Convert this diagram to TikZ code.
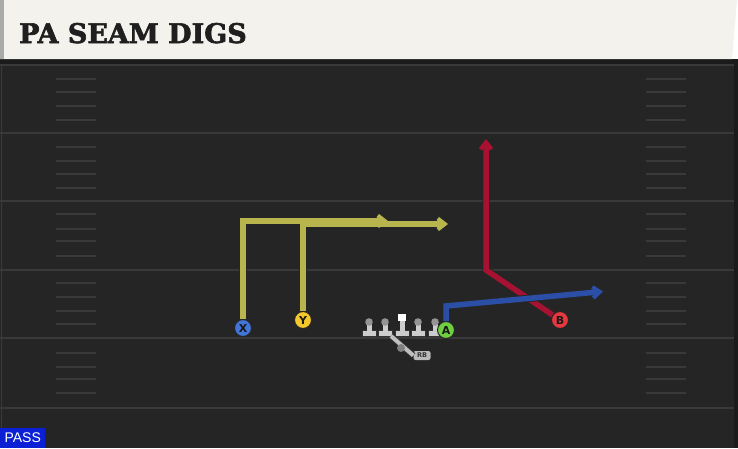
\documentclass[tikz,border=0pt]{standalone}
\usepackage{fontspec}
\setmainfont{DejaVu Serif}
\setsansfont{DejaVu Sans}
\newfontfamily\passfont{Liberation Sans}
\newfontfamily\titlefont[FakeBold=2.2]{DejaVu Serif Bold}
\usetikzlibrary{arrows.meta}
\usetikzlibrary{positioning}

\definecolor{turf}{HTML}{252525}
\definecolor{turfedge}{HTML}{1B1B1B}
\definecolor{yardline}{HTML}{393939}
\definecolor{paper}{HTML}{F4F2EC}
\definecolor{paperedge}{HTML}{A9ABA9}
\definecolor{xblue}{HTML}{4175D8}
\definecolor{yyellow}{HTML}{F5C82A}
\definecolor{agreen}{HTML}{6FCF3F}
\definecolor{bred}{HTML}{E8383F}
\definecolor{olive route}{HTML}{B8B44E}
\definecolor{red route}{HTML}{A81232}
\definecolor{blue route}{HTML}{2B4FA6}
\definecolor{passblue}{HTML}{0B1FD4}

\tikzset{
    player/.style={
           circle,
           draw=black!85, line width=1pt,
           inner sep=0pt, minimum size=17pt,
           font=\sffamily\bfseries\fontsize{11}{11}\selectfont,
           text=black!90,
           },
}
\tikzset{
    routeedge/.style={
           draw=black!85, line width=7.5pt,
           -{Straight Barb[length=7pt,width=11pt,line width=6pt]},
           },
}
\tikzset{
    route/.style={
           line width=5.5pt,
           -{Straight Barb[length=7pt,width=11pt,line width=4pt]},
           },
}
\tikzset{
    hash/.style={
           draw=yardline, line width=1.5pt,
           },
}
\tikzset{
    lineman/.style={
           fill=black!20,
           },
}

\begin{document}
\begin{tikzpicture}[x=1pt,y=-1pt]
\useasboundingbox (0,0) rectangle (738,448);
% field
\fill[turf] (0,59) rectangle (738,448);
\fill[turfedge] (0,59) rectangle (738,64);
\fill[turfedge] (734,64) rectangle (738,448);
\draw[yardline, line width=1pt] (1.5,65) -- (1.5,428);
\foreach \y in {65,133,201,270,338,408}
  \draw[yardline, line width=2pt] (0,\y) -- (734,\y);
\foreach \y in {79,92,106,120,147,161,174,188,214,229,241,256,283,297,311,324,353,367,379,393}
  {\draw[hash] (56,\y) -- (96,\y);
   \draw[hash] (646,\y) -- (686,\y);}
% header
\fill[paper] (0,0) -- (737,0) -- (732,59) -- (0,59) -- cycle;
\fill[paperedge] (0,0) rectangle (4,59);
\node[anchor=base west, inner sep=0pt, text=black!88,
      font=\titlefont\fontsize{27}{27}\selectfont] (title) at (19,43) {PA SEAM DIGS};
% line
\foreach \x in {369,385,418,435}
  {\fill[lineman, draw=black!80, line width=0.6pt] (\x-7,330.5) rectangle (\x+7,336);
   \fill[lineman] (\x-2.5,323) rectangle (\x+2.5,331);
   \fill[black!42] (\x,322) circle (3.8);}
\fill[lineman, draw=black!80, line width=0.6pt] (395,330.5) rectangle (409,336);
\fill[lineman] (399.5,320) rectangle (404.5,331);
\fill[white] (398,313.5) rectangle (406,321);
% backfield
\node[fill=black!27, rounded corners=2pt, inner sep=0pt, minimum width=17pt,
      minimum height=9pt, text=black!80,
      font=\sffamily\bfseries\fontsize{6.5}{6.5}\selectfont] (rb) at (422,355.5) {RB};
\coordinate (hand) at (391,336);
\draw[black!80, line width=6pt] (hand) -- (rb.west);
\draw[black!25, line width=4pt] (hand) -- (rb.west);
\fill[black!50] (401,348) circle (4);
% players
\node[player, fill=xblue] (X) at (243,328) {X};
\node[player, fill=yyellow] (Y) at (303,320) {Y};
\node[player, fill=agreen] (A) at (446,330) {A};
\node[player, fill=bred] (B) at (560,320) {B};
\coordinate (xend) at (388,221);
\coordinate (yend) at (448,224);
\coordinate (bturn) at (486,270);
\coordinate (bend) at (486,139);
\coordinate (aturn) at (446,306);
\coordinate (aend) at (603,291.5);
% routes
\draw[routeedge] (X) |- (xend);
\draw[routeedge] (Y) |- (yend);
\draw[route, olive route] (X) |- (xend);
\draw[route, olive route] (Y) |- (yend);
\draw[routeedge] (B) -- (bturn) -- (bend);
\draw[route, red route] (B) -- (bturn) -- (bend);
\draw[routeedge] (A) -- (aturn) -- (aend);
\draw[route, blue route] (A) -- (aturn) -- (aend);
% tag
\node[anchor=south west, fill=passblue, inner sep=0pt, minimum width=45pt,
      minimum height=20pt, text=white,
      font=\passfont\fontsize{14}{14}\selectfont] (pass) at (0,448) {PASS};
\end{tikzpicture}
\end{document}
